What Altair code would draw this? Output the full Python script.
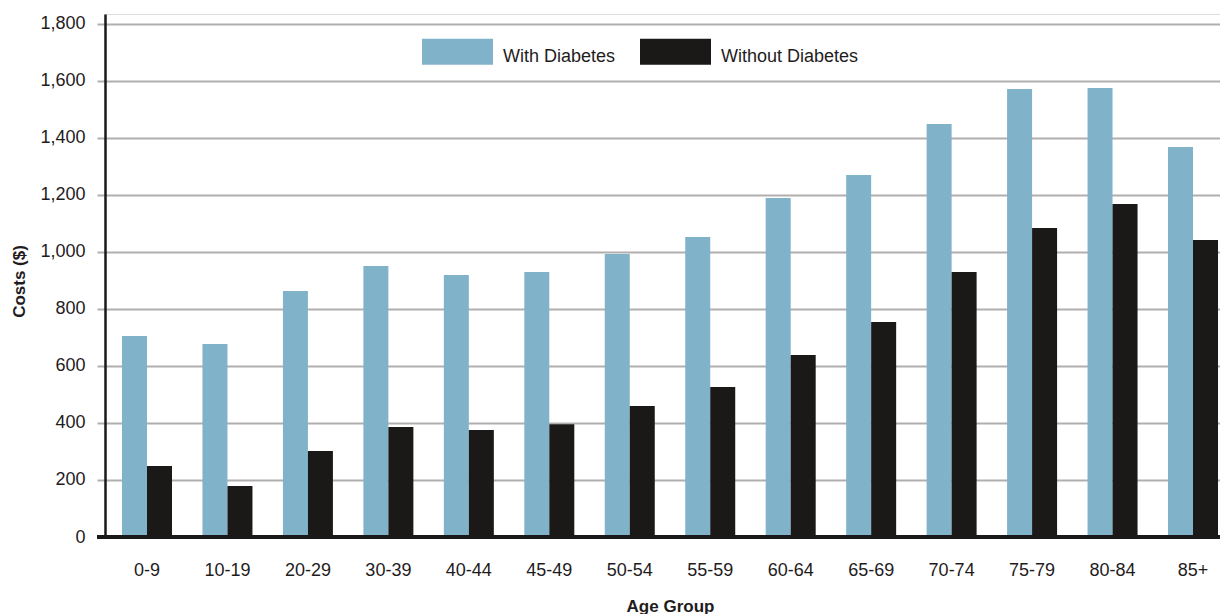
import altair as alt
import pandas as pd

# Average costs per age group, with and without diabetes
age_groups = ["0-9", "10-19", "20-29", "30-39", "40-44", "45-49", "50-54",
              "55-59", "60-64", "65-69", "70-74", "75-79", "80-84", "85+"]
with_diabetes = [705, 677, 863, 951, 919, 930, 993, 1053, 1189, 1270, 1449, 1572, 1575, 1368]
without_diabetes = [249, 179, 302, 386, 375, 396, 460, 526, 639, 754, 930, 1084, 1168, 1042]

series_names = ["With Diabetes", "Without Diabetes"]
series_colors = ["#80b3ca", "#1a1918"]
y_ticks = [0, 200, 400, 600, 800, 1000, 1200, 1400, 1600, 1800]

rows = []
for name, values in zip(series_names, [with_diabetes, without_diabetes]):
    for group, value in zip(age_groups, values):
        rows.append({"Age Group": group, "Series": name, "Cost": value})
df = pd.DataFrame(rows)

W, H = 1115, 523
FONT = "Liberation Sans"
TEXT = "#1f1c1d"
GRID = "#b1aeae"

# wide rectangle used as the legend swatch, raised so its bottom meets the label baseline
swatch = "M-1,-0.521 L1,-0.521 L1,0.211 L-1,0.211 Z"

bars = alt.Chart(df).mark_bar().encode(
    x=alt.X(
        "Age Group:N",
        sort=age_groups,
        scale=alt.Scale(paddingInner=0.3786, paddingOuter=0.118, align=0.895),
        axis=alt.Axis(
            title="Age Group", titleFont=FONT, titleFontSize=17, titleFontWeight="bold",
            titleColor=TEXT, titleX=565, titleY=74, titleBaseline="alphabetic",
            labelFont=FONT, labelFontSize=18, labelColor=TEXT, labelAngle=0,
            labelPadding=38, labelBaseline="alphabetic",
            ticks=False, domain=False, grid=False,
        ),
    ),
    xOffset=alt.XOffset("Series:N", sort=series_names,
                        scale=alt.Scale(paddingInner=0, paddingOuter=0)),
    y=alt.Y(
        "Cost:Q",
        scale=alt.Scale(domain=[0, 1835], nice=False),
        axis=alt.Axis(
            title="Costs ($)", titleFont=FONT, titleFontSize=17, titleFontWeight="bold",
            titleColor=TEXT, titleX=-86, titleY=267, titleAngle=270,
            titleBaseline="middle", titleAlign="center",
            values=y_ticks, format=",d",
            labelFont=FONT, labelFontSize=18, labelColor=TEXT, labelPadding=12,
            ticks=True, tickSize=8, tickColor=GRID, tickWidth=2,
            grid=True, gridColor=GRID, gridWidth=2,
            domain=True, domainColor="#1a1918", domainWidth=2.5,
        ),
    ),
    color=alt.Color(
        "Series:N",
        sort=series_names,
        scale=alt.Scale(domain=series_names, range=series_colors),
        legend=alt.Legend(
            title=None, orient="none", direction="horizontal",
            legendX=317, legendY=7.5, padding=0,
            symbolType=swatch, symbolSize=5041, symbolStrokeWidth=0, symbolOpacity=1,
            labelFont=FONT, labelFontSize=18, labelColor=TEXT, labelOffset=10,
            columnPadding=24,
        ),
    ),
)

# baseline along the bottom, extending slightly past the value axis
baseline = alt.Chart(df).mark_rule(color="#1a1918", strokeWidth=3).encode(
    x=alt.value(-8), x2=alt.value(W), y=alt.value(H)
)

chart = alt.layer(bars, baseline).properties(
    width=W, height=H,
    autosize=alt.AutoSizeParams(type="none"),
    padding={"left": 105, "top": 14, "right": 0, "bottom": 77},
).configure_view(stroke=None).configure(background="white")

chart.save("out.html", embed_options={"renderer": "svg", "actions": False})
